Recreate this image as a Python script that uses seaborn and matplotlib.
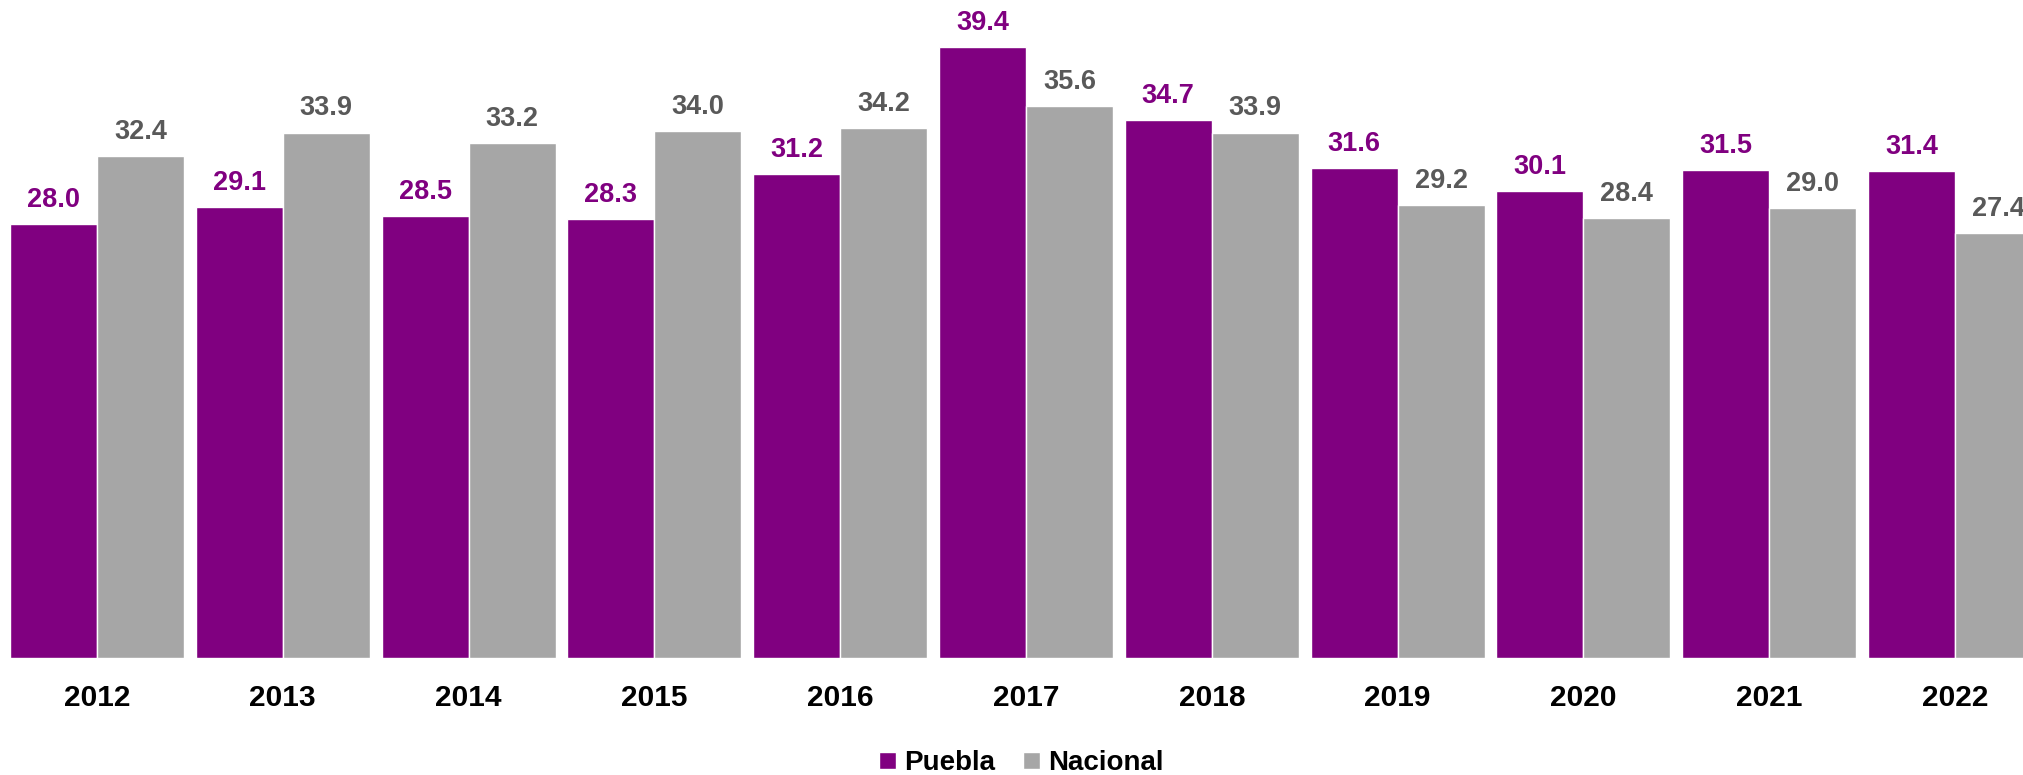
import matplotlib
matplotlib.use("Agg")
import matplotlib.pyplot as plt
import seaborn as sns
import pandas as pd

# %% Data
years = ["2012", "2013", "2014", "2015", "2016", "2017", "2018", "2019", "2020", "2021", "2022"]
puebla = [28.0, 29.1, 28.5, 28.3, 31.2, 39.4, 34.7, 31.6, 30.1, 31.5, 31.4]
nacional = [32.4, 33.9, 33.2, 34.0, 34.2, 35.6, 33.9, 29.2, 28.4, 29.0, 27.4]
series = ["Puebla", "Nacional"]

PURPLE = "#800080"
GRAY = "#A6A6A6"
LABEL_GRAY = "#595959"

df = pd.DataFrame({
    "Year": years * 2,
    "Valor": puebla + nacional,
    "Serie": [series[0]] * len(years) + [series[1]] * len(years),
})

# %% Plot
sns.set_theme(style="white")
plt.rcParams["font.family"] = ["Liberation Sans", "DejaVu Sans"]

fig = plt.figure(figsize=(20.23, 7.75), dpi=100)
ax = fig.add_axes([0.0, 0.151, 1.0, 0.849])

sns.barplot(data=df, x="Year", y="Valor", hue="Serie", palette=[PURPLE, GRAY],
            width=0.937, saturation=1, gap=0, ax=ax, legend=True)

for cont, col in zip(ax.containers, [PURPLE, LABEL_GRAY]):
    ax.bar_label(cont, fmt="%.1f", padding=8, color=col, fontsize=19.5, fontweight="bold")

ax.set_ylim(0, 42.45)
ax.set_xlim(-0.522, 10.366)
ax.set_xlabel("")
ax.set_ylabel("")
ax.set_yticks([])
sns.despine(ax=ax, left=True, bottom=True)
ax.tick_params(axis="x", length=0, pad=19, labelsize=21.5)
for lab in ax.get_xticklabels():
    lab.set_fontweight("bold")
    lab.set_color("black")

leg = ax.legend(loc="lower center", bbox_to_anchor=(0.505, -0.034), bbox_transform=fig.transFigure,
                ncol=2, frameon=False, handlelength=0.6, handleheight=0.6,
                handletextpad=0.3, columnspacing=1.0,
                prop={"size": 20, "weight": "bold"})
for t in leg.get_texts():
    t.set_color("black")

fig.savefig("out.png", dpi=100)
